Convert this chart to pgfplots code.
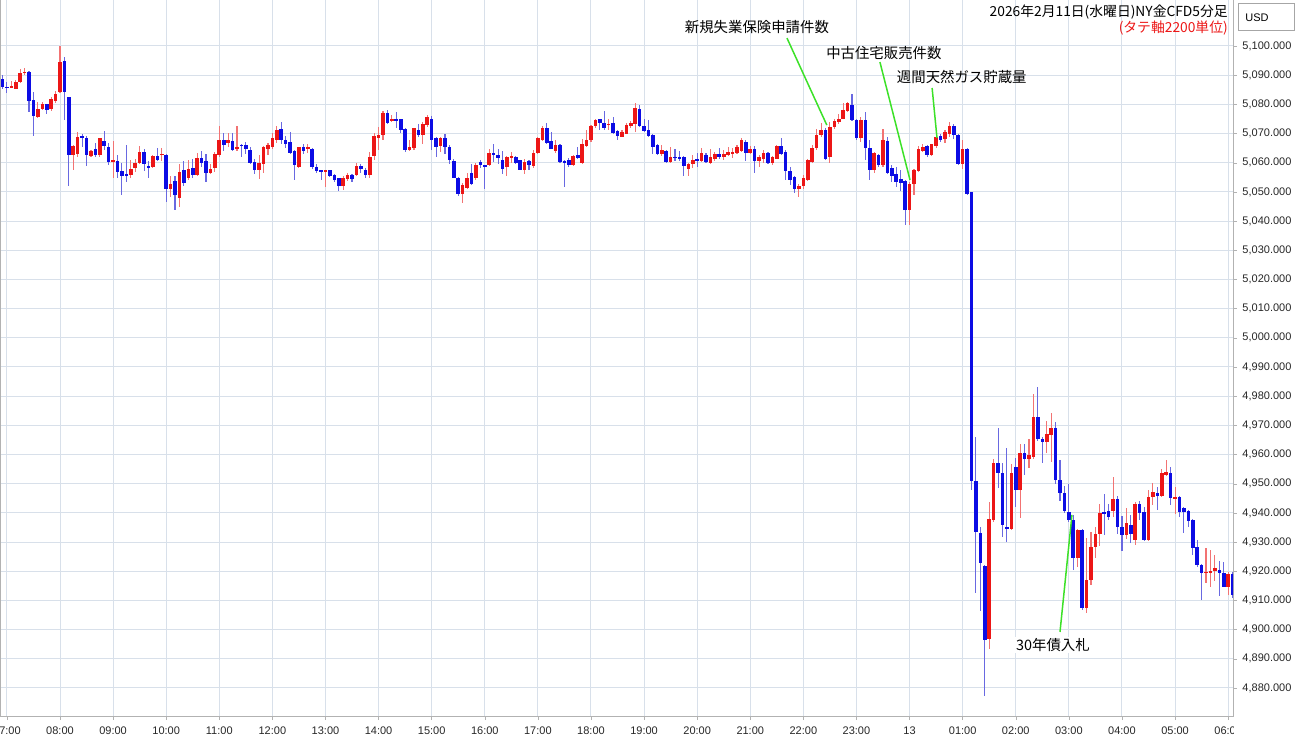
\documentclass[border=0pt]{standalone}
\usepackage{pgfplots}
\usepackage{pgfplotstable}
\pgfplotsset{compat=1.18}
\usepackage{fontspec}
\setmainfont{Liberation Sans}
\newfontfamily\jp{Noto Sans CJK JP}
\definecolor{cblue}{RGB}{12,12,228}
\definecolor{cred}{RGB}{236,22,22}
\definecolor{wblue}{RGB}{105,105,225}
\definecolor{wred}{RGB}{242,115,115}
\definecolor{gridc}{RGB}{216,224,234}
\definecolor{ann}{RGB}{60,225,40}

\pgfplotstableread{
i o h l c
-13 5088.6 5090.1 5085.5 5086.1
-12 5086.1 5087.8 5084.0 5085.5
-11 5085.7 5088.0 5085.5 5086.2
-10 5085.5 5088.6 5085.2 5087.8
-9 5087.8 5092.0 5087.5 5090.9
-8 5090.7 5092.7 5090.3 5091.2
-7 5091.2 5091.3 5077.5 5081.3
-6 5081.7 5084.4 5069.2 5076.0
-5 5075.8 5081.0 5075.5 5078.6
-4 5078.6 5080.8 5078.1 5080.1
-3 5080.1 5080.4 5076.7 5078.1
-2 5078.3 5082.6 5077.7 5081.7
-1 5081.2 5084.7 5080.6 5083.8
0 5084.4 5100.0 5084.0 5094.6
1 5095.0 5096.4 5074.7 5084.4
2 5082.4 5082.6 5052.1 5062.7
3 5062.7 5066.1 5057.7 5065.7
4 5063.2 5070.7 5061.9 5069.0
5 5069.0 5069.9 5065.5 5068.4
6 5068.7 5069.2 5058.9 5062.7
7 5062.4 5064.4 5062.1 5064.0
8 5064.6 5066.7 5062.1 5062.7
9 5062.7 5068.7 5062.1 5068.3
10 5067.5 5071.0 5064.4 5065.7
11 5065.5 5066.7 5059.2 5060.4
12 5060.6 5067.6 5055.0 5061.0
13 5060.6 5062.6 5055.0 5057.0
14 5057.2 5060.0 5049.2 5055.6
15 5056.1 5066.3 5053.5 5055.5
16 5056.0 5061.2 5055.0 5058.1
17 5058.4 5061.5 5056.9 5060.0
18 5060.0 5065.7 5059.6 5063.8
19 5063.8 5064.6 5057.3 5059.6
20 5059.1 5060.9 5055.0 5058.3
21 5058.7 5062.5 5058.1 5062.3
22 5062.3 5065.3 5060.7 5060.9
23 5062.8 5065.3 5060.7 5063.2
24 5062.6 5063.0 5046.7 5051.0
25 5051.0 5055.5 5048.4 5052.9
26 5053.8 5055.5 5044.0 5049.2
27 5047.8 5059.6 5045.0 5056.9
28 5057.7 5060.7 5052.0 5053.2
29 5054.7 5061.2 5054.1 5058.1
30 5058.4 5061.5 5055.0 5055.8
31 5055.8 5063.5 5055.5 5061.5
32 5061.7 5064.0 5058.7 5060.0
33 5060.7 5063.2 5053.5 5056.6
34 5056.6 5059.6 5056.1 5058.1
35 5058.1 5063.8 5057.0 5063.2
36 5062.6 5072.6 5062.1 5067.8
37 5068.0 5070.3 5064.1 5066.1
38 5066.9 5070.3 5065.5 5067.8
39 5067.6 5070.3 5064.1 5064.4
40 5065.0 5072.6 5064.1 5065.5
41 5066.3 5066.6 5061.9 5065.8
42 5066.1 5067.2 5063.0 5064.6
43 5064.4 5065.3 5059.6 5060.0
44 5060.4 5061.2 5056.1 5057.5
45 5057.5 5062.6 5054.4 5060.0
46 5059.6 5065.7 5056.4 5065.3
47 5064.6 5066.9 5062.7 5066.1
48 5065.3 5070.3 5064.6 5068.4
49 5068.0 5072.6 5066.9 5071.4
50 5071.4 5074.1 5066.6 5067.8
51 5068.0 5069.2 5065.3 5066.4
52 5067.2 5070.6 5063.0 5063.2
53 5064.1 5064.4 5054.3 5059.2
54 5058.7 5065.5 5058.1 5065.3
55 5065.3 5066.6 5063.0 5064.1
56 5064.9 5066.6 5063.5 5065.5
57 5064.6 5065.3 5058.1 5058.4
58 5058.4 5059.8 5056.6 5057.0
59 5057.5 5057.7 5054.1 5057.0
60 5057.0 5057.7 5051.8 5057.5
61 5057.5 5057.7 5055.0 5055.5
62 5055.8 5056.1 5053.5 5054.1
63 5054.7 5055.0 5050.4 5051.8
64 5052.0 5055.5 5050.6 5055.0
65 5054.3 5056.4 5053.8 5055.8
66 5055.8 5056.1 5053.5 5054.3
67 5055.8 5060.0 5055.5 5058.9
68 5058.9 5059.6 5056.4 5057.7
69 5057.5 5058.4 5055.0 5055.8
70 5055.8 5063.8 5054.7 5062.1
71 5062.3 5070.1 5060.9 5069.2
72 5068.7 5072.4 5064.6 5069.5
73 5069.5 5077.8 5067.8 5077.2
74 5077.2 5078.1 5073.5 5073.7
75 5074.6 5076.4 5074.1 5075.2
76 5075.0 5077.5 5071.8 5074.6
77 5074.9 5075.2 5070.1 5071.0
78 5071.8 5072.1 5063.8 5064.4
79 5064.4 5067.8 5064.1 5065.5
80 5065.0 5072.1 5064.6 5071.8
81 5071.4 5073.5 5069.0 5069.5
82 5069.5 5074.1 5066.6 5073.5
83 5072.9 5076.4 5072.4 5075.6
84 5074.9 5076.0 5064.6 5068.0
85 5068.4 5068.9 5062.1 5065.3
86 5065.7 5068.9 5063.8 5068.7
87 5068.7 5070.1 5063.2 5065.5
88 5065.5 5066.1 5059.6 5060.9
89 5060.9 5061.5 5054.7 5055.0
90 5055.0 5055.2 5048.6 5049.3
91 5049.5 5052.9 5046.3 5052.4
92 5051.2 5056.4 5050.9 5054.7
93 5056.5 5059.6 5052.4 5052.7
94 5054.7 5060.0 5054.3 5059.2
95 5060.4 5061.2 5058.4 5059.2
96 5059.2 5059.2 5050.9 5058.9
97 5059.2 5064.9 5058.9 5063.5
98 5063.5 5066.4 5060.4 5062.6
99 5062.6 5064.6 5059.6 5061.5
100 5060.9 5064.1 5056.4 5058.1
101 5058.7 5062.6 5055.8 5061.9
102 5061.9 5063.8 5060.0 5062.3
103 5062.1 5062.3 5059.6 5059.8
104 5060.9 5061.2 5057.5 5057.7
105 5057.7 5061.2 5056.1 5060.4
106 5060.7 5061.2 5057.5 5059.2
107 5058.9 5064.4 5058.1 5063.5
108 5063.2 5068.9 5063.0 5068.4
109 5067.8 5072.6 5067.6 5072.1
110 5072.1 5073.5 5066.4 5066.9
111 5067.6 5070.6 5064.6 5064.9
112 5064.1 5068.0 5063.4 5066.1
113 5066.1 5066.4 5060.0 5060.4
114 5060.7 5060.9 5051.6 5060.0
115 5061.2 5061.9 5058.6 5059.2
116 5059.2 5062.6 5058.9 5062.3
117 5062.6 5065.3 5061.2 5061.5
118 5060.0 5068.0 5059.6 5066.4
119 5065.7 5071.2 5065.5 5068.0
120 5067.8 5072.9 5067.2 5072.6
121 5072.6 5075.2 5072.1 5074.6
122 5074.9 5075.2 5071.2 5073.5
123 5073.7 5077.8 5071.4 5072.1
124 5072.9 5075.2 5071.4 5073.5
125 5073.5 5075.6 5069.8 5070.3
126 5071.0 5071.4 5068.0 5069.2
127 5068.9 5071.2 5068.7 5070.6
128 5070.1 5073.5 5069.8 5072.9
129 5072.6 5074.4 5072.1 5073.7
130 5073.5 5080.6 5070.6 5079.0
131 5078.6 5079.8 5072.4 5072.6
132 5072.6 5075.2 5070.6 5071.0
133 5071.4 5074.6 5068.7 5069.2
134 5069.5 5069.8 5063.2 5065.5
135 5066.1 5066.4 5062.6 5063.0
136 5063.0 5066.1 5062.3 5064.4
137 5064.1 5064.4 5060.0 5060.4
138 5060.4 5065.7 5060.0 5062.1
139 5062.1 5064.6 5060.7 5061.5
140 5062.1 5064.1 5060.7 5061.2
141 5062.1 5062.6 5055.8 5058.9
142 5058.1 5060.0 5055.5 5059.6
143 5059.6 5062.6 5058.1 5061.2
144 5061.2 5063.5 5058.6 5060.9
145 5060.7 5065.3 5060.4 5063.5
146 5062.6 5063.2 5059.8 5060.4
147 5060.0 5064.6 5059.6 5062.1
148 5061.5 5063.8 5060.7 5063.0
149 5063.0 5065.3 5061.5 5062.1
150 5062.1 5064.4 5060.9 5063.2
151 5062.6 5065.3 5062.3 5063.8
152 5063.0 5064.9 5061.5 5063.8
153 5063.5 5066.1 5063.0 5065.3
154 5064.1 5068.4 5063.8 5067.8
155 5067.2 5067.8 5060.9 5063.5
156 5063.5 5065.7 5063.2 5064.9
157 5064.9 5065.7 5056.4 5060.7
158 5060.7 5062.6 5058.6 5062.1
159 5061.5 5064.4 5060.0 5063.5
160 5063.2 5063.8 5059.6 5059.8
161 5059.8 5062.3 5059.2 5062.1
162 5061.5 5066.1 5061.2 5065.7
163 5065.7 5068.4 5062.6 5063.2
164 5063.8 5064.4 5054.3 5057.3
165 5057.3 5058.4 5052.4 5054.3
166 5055.0 5055.5 5049.5 5050.9
167 5050.9 5052.9 5048.2 5052.0
168 5052.0 5055.8 5050.9 5055.0
169 5054.3 5061.5 5053.8 5060.9
170 5060.4 5066.1 5060.0 5065.3
171 5065.3 5071.8 5064.6 5069.8
172 5069.5 5073.7 5068.9 5071.4
173 5071.2 5071.8 5061.0 5061.5
174 5062.1 5074.1 5060.0 5072.4
175 5072.4 5075.2 5071.8 5074.4
176 5074.1 5076.7 5073.5 5075.2
177 5075.2 5080.6 5074.9 5078.1
178 5077.8 5080.9 5077.5 5080.6
179 5079.8 5083.6 5074.4 5074.9
180 5074.9 5075.2 5067.8 5068.7
181 5068.7 5075.8 5067.2 5074.9
182 5074.9 5077.5 5060.9 5065.3
183 5065.0 5068.0 5054.3 5057.5
184 5057.5 5063.8 5056.6 5063.5
185 5062.7 5063.0 5058.6 5059.2
186 5059.2 5071.4 5058.6 5067.8
187 5067.6 5069.0 5056.4 5056.6
188 5058.4 5059.2 5053.5 5055.5
189 5056.1 5058.4 5051.8 5053.5
190 5054.3 5057.5 5050.4 5053.2
191 5053.8 5054.1 5038.7 5043.8
192 5043.8 5053.5 5038.7 5052.9
193 5052.7 5058.1 5049.0 5057.5
194 5057.3 5065.7 5057.0 5065.0
195 5064.1 5066.4 5063.8 5065.5
196 5065.7 5066.1 5062.1 5062.6
197 5062.6 5066.6 5062.3 5066.4
198 5065.7 5069.2 5065.3 5068.9
199 5069.2 5070.1 5067.2 5067.8
200 5068.3 5071.4 5066.8 5070.6
201 5069.9 5074.0 5069.0 5072.8
202 5072.8 5073.4 5068.3 5069.6
203 5069.6 5069.8 5059.4 5059.7
204 5059.7 5068.0 5057.9 5064.7
205 5064.7 5065.1 5049.3 5049.5
206 5049.9 5050.0 4947.7 4950.9
207 4950.9 4966.1 4912.4 4933.5
208 4933.1 4935.3 4906.5 4922.9
209 4921.7 4922.3 4877.3 4896.3
210 4896.9 4943.6 4893.4 4937.8
211 4937.6 4958.5 4936.9 4957.2
212 4957.2 4969.0 4948.4 4953.8
213 4953.8 4957.2 4931.9 4935.7
214 4935.3 4962.3 4929.9 4934.4
215 4934.4 4956.9 4934.0 4953.8
216 4955.6 4958.9 4942.0 4948.0
217 4948.0 4963.6 4938.2 4960.4
218 4960.4 4963.6 4953.1 4958.5
219 4958.5 4965.2 4955.3 4959.8
220 4959.1 4980.7 4958.5 4972.9
221 4972.9 4983.0 4964.8 4965.2
222 4965.2 4966.1 4957.2 4964.4
223 4964.4 4971.6 4960.4 4967.0
224 4966.7 4974.3 4957.6 4969.0
225 4969.0 4971.3 4949.9 4951.3
226 4951.3 4958.1 4944.2 4946.9
227 4946.9 4949.2 4940.1 4940.8
228 4940.4 4949.9 4937.0 4937.6
229 4937.6 4939.3 4920.4 4924.4
230 4924.4 4934.4 4921.4 4934.1
231 4934.1 4934.4 4906.7 4907.3
232 4907.3 4931.3 4905.8 4917.0
233 4917.0 4933.6 4915.3 4928.4
234 4928.4 4935.3 4924.4 4932.8
235 4932.8 4943.1 4928.7 4939.9
236 4940.1 4946.5 4932.4 4939.9
237 4940.8 4943.1 4937.4 4938.5
238 4940.8 4952.2 4938.5 4944.7
239 4944.7 4945.8 4932.8 4935.3
240 4935.3 4938.9 4927.1 4932.4
241 4932.4 4941.6 4930.9 4936.4
242 4935.9 4939.3 4929.6 4932.8
243 4930.7 4943.9 4929.0 4943.1
244 4943.1 4944.2 4937.4 4940.1
245 4940.4 4942.1 4930.5 4930.7
246 4930.7 4947.9 4930.5 4945.3
247 4945.3 4950.4 4942.7 4947.3
248 4946.9 4949.0 4941.0 4945.8
249 4945.8 4954.9 4945.6 4953.6
250 4953.0 4958.1 4952.6 4954.1
251 4953.8 4955.6 4942.7 4945.0
252 4944.6 4949.0 4939.6 4945.3
253 4945.3 4945.8 4938.7 4940.4
254 4941.6 4942.1 4933.0 4940.4
255 4940.8 4941.0 4935.1 4937.4
256 4937.6 4937.8 4925.6 4927.9
257 4928.4 4930.7 4921.4 4922.2
258 4922.2 4922.5 4910.0 4919.3
259 4919.4 4927.9 4916.1 4919.8
260 4919.5 4927.3 4914.7 4920.1
261 4920.2 4925.6 4916.8 4921.0
262 4920.4 4923.6 4911.5 4919.3
263 4919.3 4923.3 4914.7 4914.7
264 4914.7 4919.6 4911.9 4919.1
265 4919.1 4919.6 4911.0 4911.9
}\data

\begin{document}
\begin{tikzpicture}
\begin{axis}[
  at={(0pt,14.5pt)}, anchor=south west,
  scale only axis, width=616.5pt, height=358pt,
  xmin=-13.56, xmax=265.1, ymin=4870.4, ymax=5115.76,
  xtick={-12,0,12,...,264},
  xticklabels={07:00,08:00,09:00,10:00,11:00,12:00,13:00,14:00,15:00,16:00,17:00,18:00,19:00,20:00,21:00,22:00,23:00,13,01:00,02:00,03:00,04:00,05:00,06:00},
  ytick={4880,4890,...,5100},
  yticklabels={{4,880.000},{4,890.000},{4,900.000},{4,910.000},{4,920.000},{4,930.000},{4,940.000},{4,950.000},{4,960.000},{4,970.000},{4,980.000},{4,990.000},{5,000.000},{5,010.000},{5,020.000},{5,030.000},{5,040.000},{5,050.000},{5,060.000},{5,070.000},{5,080.000},{5,090.000},{5,100.000}},
  yticklabel pos=right,
  tick label style={font=\fontsize{5.5}{6}\selectfont, text=black!85},
  yticklabel style={anchor=west, xshift=-0.8pt},
  grid=major, major grid style={gridc, line width=0.5pt},
  axis line style={gray!60, line width=0.5pt},
  tick style={gray!60}, major tick length=2pt, tick align=outside,
  xtick pos=bottom, ytick pos=right,
  clip mode=individual,
  unbounded coords=discard,
]
% wicks
\addplot[draw=none, mark=none, forget plot,
  error bars/.cd, y dir=both, y explicit, error mark=none,
  error bar style={draw=wblue, line width=0.55pt}]
  table[x=i, y expr={\thisrow{c}<\thisrow{o} ? (\thisrow{h}+\thisrow{l})/2 : nan},
        y error expr={(\thisrow{h}-\thisrow{l})/2}] {\data};
\addplot[draw=none, mark=none, forget plot,
  error bars/.cd, y dir=both, y explicit, error mark=none,
  error bar style={draw=wred, line width=0.55pt}]
  table[x=i, y expr={\thisrow{c}<\thisrow{o} ? nan : (\thisrow{h}+\thisrow{l})/2},
        y error expr={(\thisrow{h}-\thisrow{l})/2}] {\data};
% bodies
\addplot[draw=none, mark=none, forget plot,
  error bars/.cd, y dir=both, y explicit, error mark=none,
  error bar style={draw=cblue, line width=1.8pt}]
  table[x=i, y expr={\thisrow{c}<\thisrow{o} ? (\thisrow{o}+\thisrow{c})/2 : nan},
        y error expr={max(abs(\thisrow{o}-\thisrow{c})/2,0.25)}] {\data};
\addplot[draw=none, mark=none, forget plot,
  error bars/.cd, y dir=both, y explicit, error mark=none,
  error bar style={draw=cred, line width=1.8pt}]
  table[x=i, y expr={\thisrow{c}<\thisrow{o} ? nan : (\thisrow{o}+\thisrow{c})/2},
        y error expr={max(abs(\thisrow{o}-\thisrow{c})/2,0.25)}] {\data};

% annotation lines
\draw[ann, line width=0.75pt] (axis cs:164.3,5102.7) -- (axis cs:173.3,5072.9);
\draw[ann, line width=0.75pt] (axis cs:185.3,5094.5) -- (axis cs:192.1,5054.1);
\draw[ann, line width=0.75pt] (axis cs:197.1,5085.6) -- (axis cs:198.2,5068.5);
\draw[ann, line width=0.75pt] (axis cs:226.0,4899.2) -- (axis cs:228.7,4939.3);
% annotation texts
\node[font=\jp\fontsize{7.2}{8}\selectfont, inner sep=0pt] at (axis cs:157.5,5106.5) {新規失業保険申請件数};
\node[font=\jp\fontsize{7.2}{8}\selectfont, inner sep=0pt] at (axis cs:186.2,5097.6) {中古住宅販売件数};
\node[font=\jp\fontsize{7.2}{8}\selectfont, inner sep=0pt] at (axis cs:203.8,5089.4) {週間天然ガス貯蔵量};
\node[font=\jp\fontsize{7.2}{8}\selectfont, fill=white, inner sep=0.5pt] at (axis cs:224.4,4894.7) {30年債入札};
% title
\node[font=\jp\fontsize{6.9}{7.5}\selectfont, inner sep=0pt, anchor=east] at (axis cs:264.0,5111.6) {2026年2月11日(水曜日)NY金CFD5分足};
\node[font=\jp\fontsize{6.9}{7.5}\selectfont, inner sep=0pt, anchor=east, text=cred] at (axis cs:264.0,5106.2) {(タテ軸2200単位)};
\end{axis}
\begin{scope}[yshift=372.5pt, x=0.5pt, y=-0.5pt]
\fill[white] (1234,717) rectangle (1300,745);
\draw[gray!70, line width=0.5pt, fill=white] (1238,4) rectangle (1294,31);
\node[font=\fontsize{5.5}{6}\selectfont, anchor=west, inner sep=0pt] at (1245,17.5) {USD};
\end{scope}
\pgfresetboundingbox
\useasboundingbox (0,0) rectangle (650pt,372.5pt);
\end{tikzpicture}
\end{document}
